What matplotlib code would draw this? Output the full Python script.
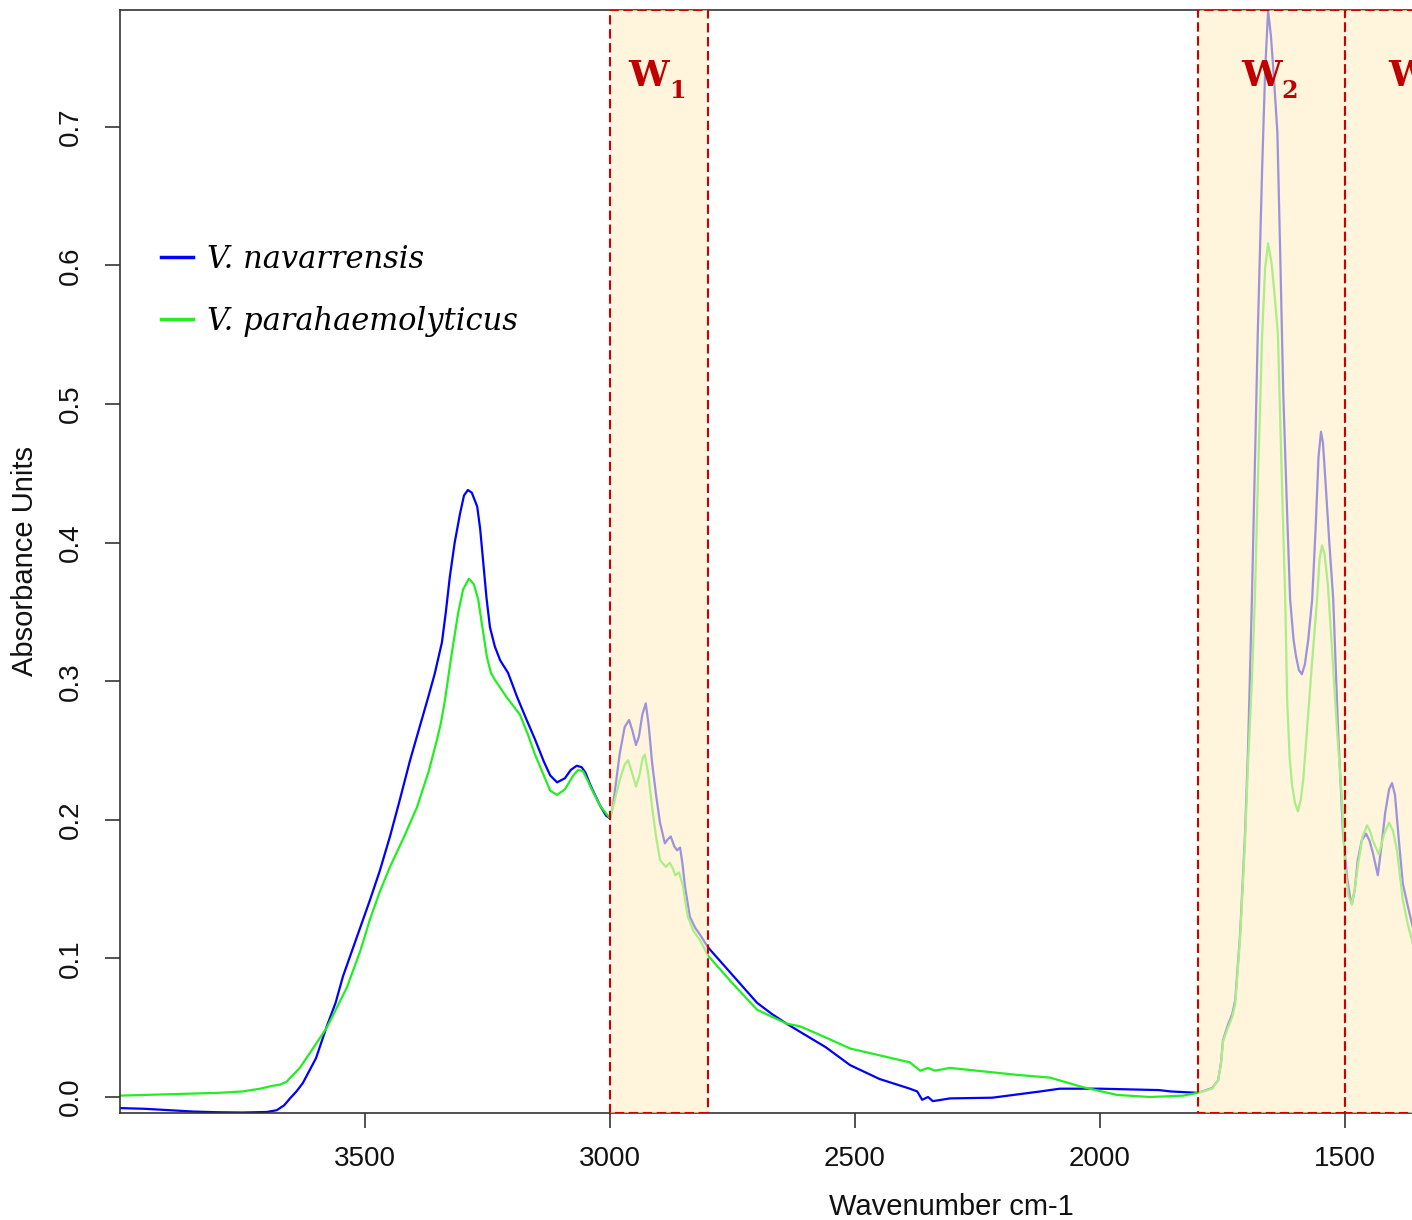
import matplotlib
matplotlib.use("Agg")
import matplotlib.pyplot as plt

# ---------------- data ----------------
wn_nav = [4000, 3950, 3900, 3850, 3800, 3750, 3700, 3680, 3665, 3653, 3640, 3627,
          3600, 3578, 3560, 3545, 3520, 3490, 3470, 3449, 3430, 3408, 3390, 3373,
          3358, 3343, 3335, 3327, 3317, 3306, 3298, 3290, 3282, 3271, 3265, 3259,
          3252, 3245, 3235, 3224, 3208, 3190, 3170, 3153, 3135, 3122, 3108, 3092,
          3080, 3068, 3058, 3050, 3040, 3020, 3008, 3000, 2995, 2990, 2980, 2970,
          2961, 2954, 2947, 2941, 2934, 2927, 2921, 2914, 2906, 2898, 2888, 2882,
          2876, 2869, 2863, 2857, 2852, 2847, 2837, 2826, 2816, 2800, 2750, 2700,
          2670, 2640, 2612, 2560, 2510, 2450, 2388, 2373, 2363, 2351, 2341, 2306,
          2220, 2122, 2082, 2000, 1880, 1855, 1800, 1771, 1759, 1753, 1749, 1739,
          1730, 1724, 1714, 1704, 1698, 1690, 1684, 1678, 1669, 1663, 1657, 1651,
          1645, 1638, 1632, 1626, 1618, 1612, 1605, 1600, 1594, 1588, 1582, 1575,
          1567, 1560, 1554, 1549, 1545, 1540, 1532, 1524, 1514, 1504, 1496, 1490,
          1486, 1480, 1474, 1466, 1457, 1450, 1443, 1433, 1426, 1418, 1410, 1404,
          1398, 1390, 1382, 1372, 1362]
abs_nav = [-0.008, -0.0085, -0.0095, -0.0105, -0.011, -0.0112, -0.0108, -0.0095, -0.006, -0.001, 0.004, 0.010,
           0.028, 0.051, 0.068, 0.087, 0.112, 0.142, 0.163, 0.188, 0.213, 0.243, 0.265, 0.286,
           0.305, 0.328, 0.350, 0.375, 0.400, 0.421, 0.434, 0.438, 0.436, 0.426, 0.410, 0.387,
           0.360, 0.339, 0.325, 0.315, 0.306, 0.289, 0.272, 0.258, 0.242, 0.232, 0.227, 0.230,
           0.236, 0.239, 0.238, 0.234, 0.225, 0.210, 0.203, 0.201, 0.208, 0.221, 0.248, 0.267,
           0.272, 0.264, 0.254, 0.260, 0.276, 0.284, 0.268, 0.241, 0.218, 0.198, 0.183, 0.186,
           0.188, 0.181, 0.178, 0.180, 0.168, 0.152, 0.130, 0.122, 0.117, 0.108, 0.088, 0.068,
           0.060, 0.053, 0.047, 0.036, 0.023, 0.013, 0.006, 0.004, -0.002, 0.000, -0.003, -0.001,
           -0.0005, 0.004, 0.006, 0.006, 0.005, 0.004, 0.003, 0.0065, 0.012, 0.025, 0.041, 0.052,
           0.060, 0.070, 0.118, 0.190, 0.250, 0.359, 0.455, 0.551, 0.671, 0.740, 0.784, 0.765,
           0.735, 0.696, 0.605, 0.508, 0.420, 0.359, 0.330, 0.318, 0.308, 0.305, 0.312, 0.330,
           0.359, 0.410, 0.462, 0.480, 0.472, 0.445, 0.400, 0.359, 0.263, 0.190, 0.159, 0.145,
           0.139, 0.150, 0.171, 0.185, 0.190, 0.185, 0.176, 0.160, 0.180, 0.205, 0.222, 0.2265,
           0.218, 0.185, 0.154, 0.138, 0.123]

wn_para = [4000, 3900, 3800, 3750, 3714, 3690, 3673, 3660, 3653, 3633, 3612, 3578,
           3537, 3510, 3490, 3470, 3449, 3420, 3394, 3370, 3353, 3345, 3337, 3323,
           3310, 3300, 3288, 3278, 3269, 3260, 3251, 3243, 3235, 3210, 3184, 3168,
           3153, 3135, 3122, 3108, 3092, 3075, 3065, 3055, 3045, 3040, 3020, 3000,
           2994, 2987, 2980, 2970, 2963, 2955, 2947, 2940, 2933, 2929, 2922, 2914,
           2906, 2898, 2886, 2878, 2872, 2867, 2859, 2851, 2846, 2841, 2830, 2816,
           2800, 2750, 2700, 2640, 2612, 2560, 2510, 2388, 2367, 2351, 2337, 2306,
           2170, 2102, 2034, 1965, 1898, 1830, 1800, 1771, 1759, 1753, 1749, 1739,
           1730, 1724, 1714, 1704, 1698, 1690, 1684, 1677, 1669, 1663, 1657, 1650,
           1644, 1637, 1630, 1622, 1618, 1613, 1608, 1602, 1596, 1590, 1585, 1578,
           1568, 1557, 1552, 1547, 1542, 1535, 1526, 1516, 1506, 1500, 1493, 1486,
           1480, 1473, 1464, 1455, 1449, 1443, 1431, 1420, 1410, 1402, 1394, 1388,
           1382, 1372, 1362]
abs_para = [0.001, 0.002, 0.003, 0.004, 0.006, 0.008, 0.009, 0.011, 0.0137, 0.021, 0.032, 0.050,
            0.079, 0.105, 0.128, 0.148, 0.166, 0.188, 0.209, 0.235, 0.258, 0.270, 0.286, 0.320,
            0.349, 0.366, 0.374, 0.370, 0.359, 0.338, 0.317, 0.306, 0.301, 0.288, 0.276, 0.262,
            0.247, 0.232, 0.221, 0.218, 0.222, 0.232, 0.236, 0.235, 0.228, 0.224, 0.210, 0.201,
            0.209, 0.219, 0.229, 0.240, 0.243, 0.234, 0.224, 0.232, 0.245, 0.247, 0.233, 0.209,
            0.188, 0.171, 0.166, 0.169, 0.165, 0.160, 0.162, 0.152, 0.140, 0.130, 0.120, 0.113,
            0.102, 0.082, 0.063, 0.053, 0.051, 0.043, 0.035, 0.025, 0.019, 0.021, 0.019, 0.021,
            0.016, 0.014, 0.007, 0.0015, 0.000, 0.001, 0.003, 0.006, 0.012, 0.024, 0.040, 0.050,
            0.058, 0.067, 0.115, 0.185, 0.240, 0.300, 0.359, 0.455, 0.551, 0.598, 0.616, 0.602,
            0.580, 0.551, 0.460, 0.359, 0.286, 0.245, 0.225, 0.212, 0.206, 0.215, 0.230, 0.263,
            0.310, 0.359, 0.388, 0.398, 0.392, 0.370, 0.320, 0.263, 0.214, 0.166, 0.145, 0.139,
            0.150, 0.169, 0.188, 0.196, 0.192, 0.185, 0.175, 0.190, 0.198, 0.192, 0.178, 0.160,
            0.142, 0.125, 0.111]

series_labels = ["V. navarrensis", "V. parahaemolyticus"]
region_bounds = [(3000, 2800), (1800, 1500), (1500, 1200)]
region_subscripts = ["1", "2", "3"]
x_ticks = [3500, 3000, 2500, 2000, 1500]
y_ticks = [0.0, 0.1, 0.2, 0.3, 0.4, 0.5, 0.6, 0.7]

assert len(wn_nav) == len(abs_nav) and len(wn_para) == len(abs_para)

# ---------------- figure ----------------
plt.rcParams["font.family"] = ["Liberation Sans", "DejaVu Sans"]

W, H = 1412, 1220
fig = plt.figure(figsize=(W / 100, H / 100), dpi=100)
px_per_unit = 0.49
x_left, x_right = 4000, 1000
ax_w = (x_left - x_right) * px_per_unit
ax = fig.add_axes([120 / W, (H - 1113) / H, ax_w / W, (1113 - 10) / H])

ax.plot(wn_nav, abs_nav, color="#0000FF", lw=1.6, label=series_labels[0], zorder=2)
ax.plot(wn_para, abs_para, color="#22EE22", lw=1.6, label=series_labels[1], zorder=2)

ax.set_xlim(x_left, x_right)
ax.set_ylim(-0.01154, 0.7843)

PT = 0.72  # points per pixel at 100 dpi
for (hi, lo), sub in zip(region_bounds, region_subscripts):
    ax.axvspan(lo, hi, ymin=0, ymax=1, facecolor=(1.0, 0.935, 0.78, 0.62),
               edgecolor="#CC0000", lw=1.5, ls=(0, (4.5, 2.2)), zorder=3)
    cx = (hi + lo) / 2
    ax.annotate("W", xy=(cx, 0.737), xytext=(-10 * PT, 0), textcoords="offset points",
                color="#C00000", fontsize=26, family="DejaVu Serif", weight="bold",
                ha="center", va="center", zorder=4, annotation_clip=False)
    ax.annotate(sub, xy=(cx, 0.737), xytext=(10 * PT, -15 * PT), textcoords="offset points",
                color="#C00000", fontsize=17, family="DejaVu Serif", weight="bold",
                ha="left", va="center", zorder=4, annotation_clip=False)

ax.set_xticks(x_ticks)
ax.set_xticklabels([str(t) for t in x_ticks])
ax.set_yticks(y_ticks)
ax.set_yticklabels([f"{t:.1f}" for t in y_ticks])
ax.tick_params(axis="both", direction="out", length=11, width=1.1, colors="#222222",
               labelsize=20, labelcolor="#111111")
ax.tick_params(axis="x", pad=13)
ax.tick_params(axis="y", pad=15)
for lbl in ax.get_yticklabels():
    lbl.set_rotation(90)
    lbl.set_va("center")
    lbl.set_ha("right")

for s in ["left", "bottom", "top"]:
    ax.spines[s].set_color("#333333")
    ax.spines[s].set_linewidth(1.2)
ax.spines["right"].set_visible(False)

ax.set_ylabel("Absorbance Units", fontsize=21, color="#111111")
ax.set_xlabel("Wavenumber cm-1", fontsize=21, color="#111111")
ax.yaxis.label.set_va("center")
ax.xaxis.label.set_va("center")
ax.yaxis.set_label_coords((25 - 120) / ax_w, 0.5)
ax.xaxis.set_label_coords((951 - 120) / ax_w, (1113 - 1207) / 1103)

leg = ax.legend(loc="upper left", bbox_to_anchor=(161 / W, 1 - 244 / H),
                bbox_transform=fig.transFigure, frameon=False,
                prop={"family": "DejaVu Serif", "style": "italic", "size": 22},
                handlelength=1.05, handletextpad=0.45, labelspacing=1.0,
                borderpad=0, borderaxespad=0)
for line in leg.get_lines():
    line.set_linewidth(2.5)

fig.savefig("out.png", dpi=100)
